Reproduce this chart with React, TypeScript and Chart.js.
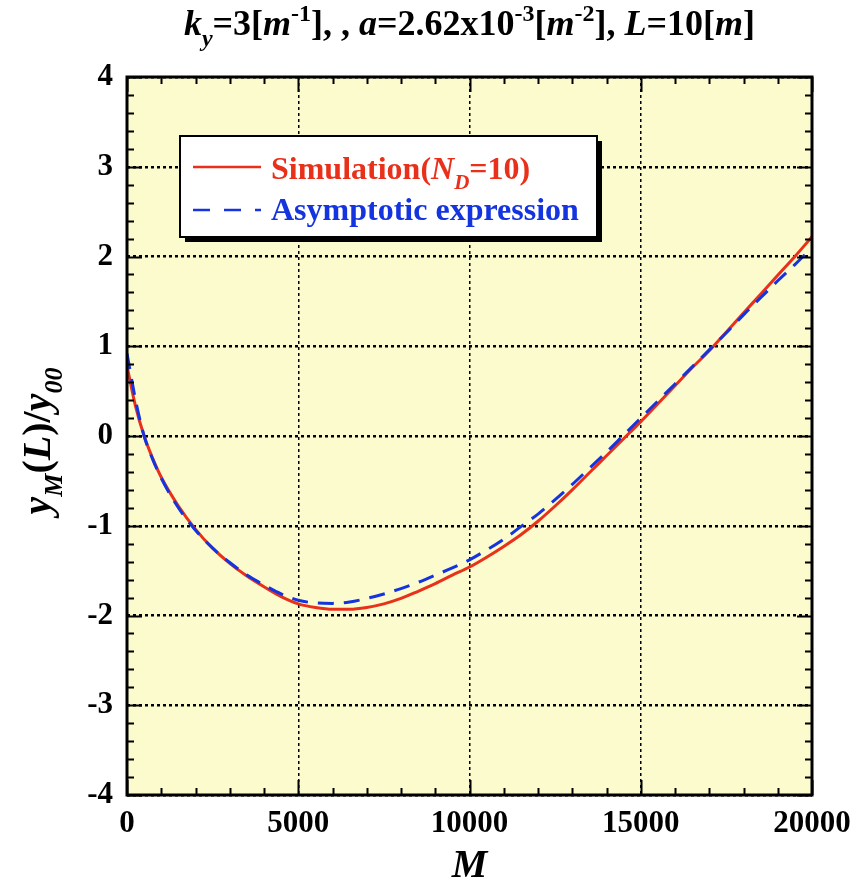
import React, { useEffect, useRef } from "react";
import { Chart, registerables } from "chart.js";

Chart.register(...registerables);

const mValues = [0, 250, 500, 750, 1000, 1500, 2000, 2500, 3000, 3500, 4000, 4500, 5000, 5500, 6000, 6500, 7000, 7500, 8000, 8500, 9000, 9500, 10000, 10500, 11000, 11500, 12000, 12500, 13000, 13500, 14000, 14500, 15000, 15500, 16000, 16500, 17000, 17500, 18000, 18500, 19000, 19500, 20000];
const simulation = [0.78, 0.33, 0.0, -0.25, -0.46, -0.78, -1.04, -1.25, -1.42, -1.56, -1.68, -1.79, -1.87, -1.91, -1.93, -1.93, -1.91, -1.87, -1.81, -1.73, -1.645, -1.55, -1.46, -1.35, -1.23, -1.1, -0.95, -0.78, -0.6, -0.41, -0.22, -0.03, 0.16, 0.36, 0.56, 0.76, 0.95, 1.16, 1.37, 1.58, 1.79, 2.0, 2.22];
const asymptotic = [0.92, 0.4, 0.0, -0.26, -0.47, -0.8, -1.05, -1.25, -1.41, -1.55, -1.66, -1.76, -1.83, -1.86, -1.865, -1.85, -1.81, -1.76, -1.7, -1.63, -1.55, -1.47, -1.38, -1.27, -1.15, -1.01, -0.87, -0.71, -0.54, -0.36, -0.18, 0.01, 0.2, 0.39, 0.58, 0.77, 0.96, 1.15, 1.35, 1.54, 1.73, 1.91, 2.1];

const xTicks = [0, 5000, 10000, 15000, 20000];
const yTicks = [-4, -3, -2, -1, 0, 1, 2, 3, 4];

const RED = "#E8301A";
const BLUE = "#1434E0";
const BG = "#FBFBCD";
const FAMILY = '"Liberation Serif", "Times New Roman", serif';

type Seg = { t: string; i?: boolean; s?: "sub" | "sup" };

function segFont(seg: Seg, size: number) {
  const sz = seg.s ? Math.round(size * 0.66) : size;
  return `${seg.i ? "italic " : ""}bold ${sz}px ${FAMILY}`;
}

function richWidth(ctx: CanvasRenderingContext2D, segs: Seg[], size: number) {
  let w = 0;
  for (const s of segs) {
    ctx.font = segFont(s, size);
    w += ctx.measureText(s.t).width;
  }
  return w;
}

function drawRich(ctx: CanvasRenderingContext2D, segs: Seg[], x: number, y: number, size: number, color: string, align: "left" | "center") {
  const w = richWidth(ctx, segs, size);
  let cx = align === "center" ? x - w / 2 : x;
  ctx.fillStyle = color;
  ctx.textAlign = "left";
  ctx.textBaseline = "alphabetic";
  for (const s of segs) {
    ctx.font = segFont(s, size);
    const dy = s.s === "sub" ? size * 0.3 : s.s === "sup" ? -size * 0.38 : 0;
    ctx.fillText(s.t, cx, y + dy);
    cx += ctx.measureText(s.t).width;
  }
}

const titleSegs: Seg[] = [
  { t: "k", i: true }, { t: "y", i: true, s: "sub" }, { t: "=3[" }, { t: "m", i: true }, { t: "-1", s: "sup" },
  { t: "], , " }, { t: "a", i: true }, { t: "=2.62x10" }, { t: "-3", s: "sup" }, { t: "[" }, { t: "m", i: true },
  { t: "-2", s: "sup" }, { t: "], " }, { t: "L", i: true }, { t: "=10[" }, { t: "m", i: true }, { t: "]" },
];
const yTitleSegs: Seg[] = [
  { t: "y", i: true }, { t: "M", i: true, s: "sub" }, { t: "(" }, { t: "L", i: true }, { t: ")/" }, { t: "y", i: true }, { t: "00", i: true, s: "sub" },
];
const xTitleSegs: Seg[] = [{ t: "M", i: true }];
const legendSim: Seg[] = [{ t: "Simulation(" }, { t: "N", i: true }, { t: "D", i: true, s: "sub" }, { t: "=10)" }];
const legendAsym: Seg[] = [{ t: "Asymptotic expression" }];

const decorPlugin = {
  id: "decor",
  beforeDraw(chart: any) {
    const { ctx, chartArea: a } = chart;
    ctx.save();
    ctx.fillStyle = "#ffffff";
    ctx.fillRect(0, 0, chart.width, chart.height);
    ctx.fillStyle = BG;
    ctx.fillRect(a.left, a.top, a.right - a.left, a.bottom - a.top);
    ctx.restore();
  },
  afterDatasetsDraw(chart: any) {
    const { ctx, chartArea: a, scales } = chart;
    const xs = scales.x;
    const ys = scales.y;
    ctx.save();
    // inward ticks
    ctx.strokeStyle = "#000";
    ctx.lineWidth = 2;
    for (let v = 0; v <= 20000; v += 1000) {
      const px = Math.round(xs.getPixelForValue(v)) + 0.5;
      const len = v % 5000 === 0 ? 15 : 7;
      ctx.beginPath();
      ctx.moveTo(px, a.bottom);
      ctx.lineTo(px, a.bottom - len);
      ctx.moveTo(px, a.top);
      ctx.lineTo(px, a.top + len);
      ctx.stroke();
    }
    for (let k = -20; k <= 20; k++) {
      const v = k / 5;
      const py = Math.round(ys.getPixelForValue(v)) + 0.5;
      const len = k % 5 === 0 ? 15 : 7;
      ctx.beginPath();
      ctx.moveTo(a.left, py);
      ctx.lineTo(a.left + len, py);
      ctx.moveTo(a.right, py);
      ctx.lineTo(a.right - len, py);
      ctx.stroke();
    }
    // frame
    ctx.lineWidth = 3;
    ctx.strokeRect(a.left, a.top, a.right - a.left, a.bottom - a.top);

    // legend
    const lx = a.left + 53;
    const ly = a.top + 59;
    const lw = 417;
    const lh = 101;
    ctx.fillStyle = "#000";
    ctx.fillRect(lx + 5, ly + 5, lw, lh);
    ctx.fillStyle = "#fff";
    ctx.fillRect(lx, ly, lw, lh);
    ctx.lineWidth = 2;
    ctx.strokeStyle = "#000";
    ctx.strokeRect(lx, ly, lw, lh);

    ctx.lineWidth = 2.5;
    ctx.strokeStyle = RED;
    ctx.beginPath();
    ctx.moveTo(lx + 13, ly + 31);
    ctx.lineTo(lx + 81, ly + 31);
    ctx.stroke();
    ctx.strokeStyle = BLUE;
    ctx.setLineDash([17, 14]);
    ctx.beginPath();
    ctx.moveTo(lx + 13, ly + 74);
    ctx.lineTo(lx + 81, ly + 74);
    ctx.stroke();
    ctx.setLineDash([]);
    drawRich(ctx, legendSim, lx + 91, ly + 43, 32, RED, "left");
    drawRich(ctx, legendAsym, lx + 91, ly + 84, 32, BLUE, "left");

    // titles
    drawRich(ctx, titleSegs, (a.left + a.right) / 2, 35, 36, "#000", "center");
    drawRich(ctx, xTitleSegs, (a.left + a.right) / 2, 877, 40, "#000", "center");
    ctx.save();
    ctx.translate(50, 441);
    ctx.rotate(-Math.PI / 2);
    drawRich(ctx, yTitleSegs, 0, 0, 40, "#000", "center");
    ctx.restore();
    ctx.restore();
  },
};

export default function App() {
  const ref = useRef<HTMLCanvasElement | null>(null);
  useEffect(() => {
    document.body.style.margin = "0";
    const canvas = ref.current;
    if (!canvas) return;
    const chart = new Chart(canvas, {
      type: "line",
      data: {
        datasets: [
          {
            label: "Simulation(N_D=10)",
            data: mValues.map((m, i) => ({ x: m, y: simulation[i] })),
            borderColor: RED,
            borderWidth: 3,
            pointRadius: 0,
            cubicInterpolationMode: "monotone",
            order: 2,
          },
          {
            label: "Asymptotic expression",
            data: mValues.map((m, i) => ({ x: m, y: asymptotic[i] })),
            borderColor: BLUE,
            borderWidth: 3,
            borderDash: [16, 10],
            pointRadius: 0,
            cubicInterpolationMode: "monotone",
            order: 1,
          },
        ],
      },
      options: {
        animation: false,
        responsive: false,
        devicePixelRatio: 1,
        layout: { padding: { left: 0, top: 77, right: 44, bottom: 0 } },
        plugins: { legend: { display: false }, tooltip: { enabled: false }, title: { display: false } },
        scales: {
          x: {
            type: "linear",
            min: 0,
            max: 20000,
            afterBuildTicks: (s: any) => { s.ticks = xTicks.map((v) => ({ value: v })); },
            afterFit: (s: any) => { s.height = 90; s.paddingLeft = 0; s.paddingRight = 0; },
            ticks: { color: "#000", padding: 10, maxRotation: 0, font: { family: FAMILY, size: 31, weight: "bold" }, callback: (v: any) => String(v) },
            grid: { color: "#000", lineWidth: 1.5, drawTicks: false } as any,
            border: { display: false, dash: [3, 3] },
          },
          y: {
            type: "linear",
            min: -4,
            max: 4,
            afterBuildTicks: (s: any) => { s.ticks = yTicks.map((v) => ({ value: v })); },
            afterFit: (s: any) => { s.width = 127; s.paddingTop = 0; s.paddingBottom = 0; },
            ticks: { color: "#000", padding: 14, font: { family: FAMILY, size: 31, weight: "bold" }, callback: (v: any) => String(v) },
            grid: { color: "#000", lineWidth: 2.5, drawTicks: false } as any,
            border: { display: false, dash: [3, 3] },
          },
        },
      } as any,
      plugins: [decorPlugin],
    });
    return () => chart.destroy();
  }, []);
  return <canvas ref={ref} width={856} height={885} style={{ display: "block", width: 856, height: 885 }} />;
}
